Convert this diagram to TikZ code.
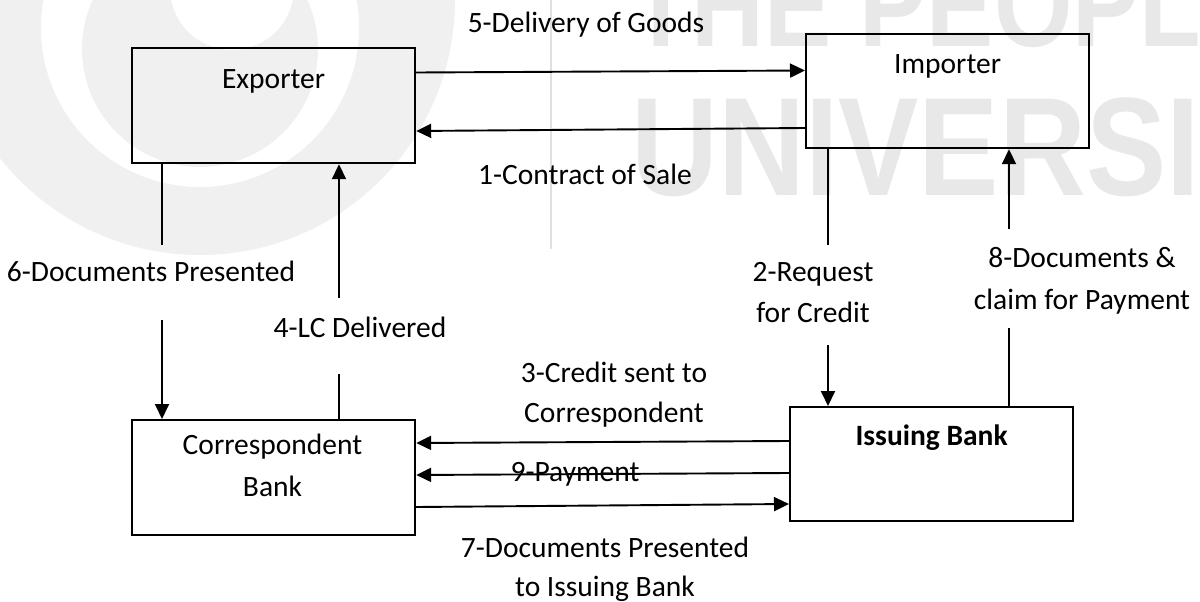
\documentclass[tikz,border=0pt]{standalone}
\usepackage{fontspec}
\setmainfont{Carlito}
\newfontfamily\wmfont{Liberation Sans}
\usetikzlibrary{arrows.meta,calc}
\begin{document}
\begin{tikzpicture}[x=1pt,y=-1pt,
  txt/.style={font=\fontsize{29.5}{42}\selectfont, inner sep=0pt, align=center},
  box/.style={draw, line width=2.2pt, rectangle, inner sep=0pt, minimum width=283pt,
    font=\fontsize{29.5}{42}\selectfont, align=center},
  conn/.style={line width=1.9pt},
  arr/.style={line width=1.9pt, -{Triangle[length=15pt,width=14pt]}},
  wm/.style={fill=black!6, draw=none},
  wmtxt/.style={text=black!9, inner sep=0pt, anchor=base west, transform shape}
]
\useasboundingbox (0,0) rectangle (1200,602);
\begin{scope}
\clip (0,0) rectangle (1200,602);
% watermark logo
\fill[wm, even odd rule] (200,0) circle (255) (200,28) circle (159);
\fill[wm, even odd rule] (200,49) circle (118) (232,-12) circle (62);
\draw[black!12, line width=1.5pt] (551,0) -- (551,249);
\node[wmtxt, xscale=0.84, font=\wmfont\bfseries\fontsize{120}{120}\selectfont] (wmA) at (630,47) {THE PEOPLE};
\node[wmtxt, xscale=0.86, font=\wmfont\bfseries\fontsize{140}{140}\selectfont] (wmB) at (631,195) {UNIVERSITY};
\end{scope}

% boxes
\node[box, anchor=north west, text height=40pt, text depth=75pt] (exp) at (131,47) {Exporter};
\node[box, anchor=north west, text height=39pt, text depth=75pt] (imp) at (805,33) {Importer};
\node[box, anchor=north west, minimum height=115pt] (cor) at (131,419) {};
\node[txt] (corT) at (272.5,465) {Correspondent\\Bank};
\node[box, anchor=north west, text height=38pt, text depth=76pt, font=\fontsize{29.5}{42}\selectfont\bfseries] (iss) at (789,406) {Issuing Bank};

% labels
\node[txt, anchor=base] (l5) at (586,33) {5-Delivery of Goods};
\node[txt, anchor=base] (l1) at (585,184) {1-Contract of Sale};
\node[txt, anchor=base] (l6) at (151,281) {6-Documents Presented};
\node[txt, anchor=base] (l4) at (360,337) {4-LC Delivered};
\node[txt, anchor=base] (l2a) at (813,281) {2-Request};
\node[txt, anchor=base] (l2b) at (813,322) {for Credit};
\node[txt, anchor=base] (l8a) at (1082,267) {8-Documents \&};
\node[txt, anchor=base] (l8b) at (1082,309) {claim for Payment};
\node[txt, anchor=base] (l3a) at (614,382) {3-Credit sent to};
\node[txt, anchor=base] (l3b) at (614,422) {Correspondent};
\node[txt, anchor=base] (l9) at (575,481) {9-Payment};
\node[txt, anchor=base] (l7a) at (605,557) {7-Documents Presented};
\node[txt, anchor=base] (l7b) at (605,596) {to Issuing Bank};

% free ends of split connectors
\coordinate (c6a) at ($(exp.south west)+(31,81)$);
\coordinate (c6b) at ($(exp.south west)+(31,156)$);
\coordinate (c4a) at ($(cor.north west)+(208,-45)$);
\coordinate (c4b) at ($(cor.north west)+(208,-121)$);
\coordinate (c2a) at ($(imp.south west)+(23,96)$);
\coordinate (c2b) at ($(imp.south west)+(23,196)$);
\coordinate (c8a) at ($(iss.north west)+(220,-78)$);
\coordinate (c8b) at ($(iss.north west)+(220,-177)$);

% connectors
\draw[arr] ($(exp.north east)+(0,25.5)$) -- ($(imp.north west)+(0,37.5)$);
\draw[arr] ($(imp.north west)+(0,95)$) -- ($(exp.north east)+(0,84)$);
\draw[conn] (exp.south west -| c6a) -- (c6a);
\draw[arr] (c6b) -- (cor.north west -| c6b);
\draw[conn] (cor.north west -| c4a) -- (c4a);
\draw[arr] (c4b) -- (exp.south west -| c4b);
\draw[conn] (imp.south west -| c2a) -- (c2a);
\draw[arr] (c2b) -- (iss.north west -| c2b);
\draw[conn] (iss.north west -| c8a) -- (c8a);
\draw[arr] (c8b) -- (imp.south west -| c8b);
\draw[arr] ($(iss.north west)+(0,35)$) -- ($(cor.north east)+(0,24)$);
\draw[arr] ($(iss.north west)+(0,67)$) -- ($(cor.north east)+(0,56)$);
\draw[arr] ($(cor.north east)+(0,88)$) -- ($(iss.north west)+(0,98)$);
\end{tikzpicture}
\end{document}
